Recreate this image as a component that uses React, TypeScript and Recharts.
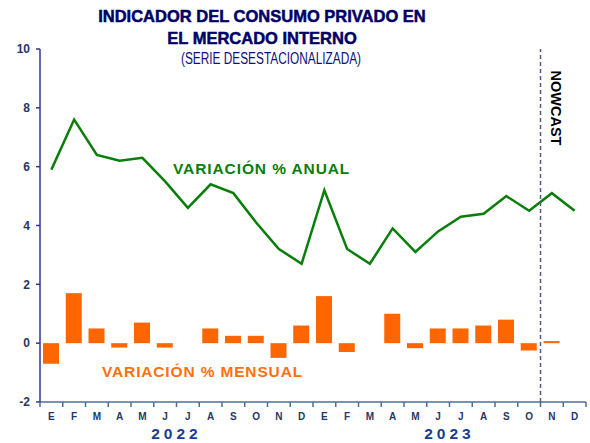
import { ComposedChart, Bar, Line, XAxis, YAxis, ReferenceLine } from 'recharts';

const categories = [
  'E-2022', 'F-2022', 'M-2022', 'A-2022', 'M2-2022', 'J-2022', 'J2-2022', 'A2-2022', 'S-2022', 'O-2022', 'N-2022', 'D-2022',
  'E-2023', 'F-2023', 'M-2023', 'A-2023', 'M2-2023', 'J-2023', 'J2-2023', 'A2-2023', 'S-2023', 'O-2023', 'N-2023', 'D-2023',
];
const monthLabels = ['E', 'F', 'M', 'A', 'M', 'J', 'J', 'A', 'S', 'O', 'N', 'D'];
const years = ['2022', '2023'];

// variación % anual (line)
const anual = [5.9, 7.6, 6.4, 6.2, 6.3, 5.5, 4.6, 5.4, 5.1, 4.1, 3.2, 2.7, 5.2, 3.2, 2.7, 3.9, 3.1, 3.8, 4.3, 4.4, 5.0, 4.5, 5.1, 4.5];
// variación % mensual (bars)
const mensual = [-0.7, 1.7, 0.5, -0.15, 0.7, -0.15, 0, 0.5, 0.25, 0.25, -0.5, 0.6, 1.6, -0.3, 0, 1.0, -0.17, 0.5, 0.5, 0.6, 0.8, -0.25, 0.07, 0];

const yTicks = [-2, 0, 2, 4, 6, 8, 10];

const data = categories.map((c, i) => ({ cat: c, anual: anual[i], mensual: mensual[i] }));

const NAVY = '#000066';
const AXIS_X = '#4f6d94';
const LABEL = '#1f3864';

const MonthTick = (props: any) => {
  const { x, y, payload, index } = props;
  const off = payload?.offset ?? 11.375;
  return (
    <g>
      <line x1={x - off} x2={x - off} y1={y} y2={y + 5} stroke={AXIS_X} strokeWidth={1.5} />
      {index === 23 && <line x1={x + off} x2={x + off} y1={y} y2={y + 5} stroke={AXIS_X} strokeWidth={1.5} />}
      <text x={x} y={y + 18} textAnchor="middle" fontSize={10} fontWeight="bold" fill={LABEL} fontFamily="Liberation Sans, Arial, sans-serif">
        {monthLabels[index % 12]}
      </text>
      {index % 12 === 6 && (
        <text x={x - off} y={y + 37} textAnchor="middle" fontSize={15.5} fontWeight="bold" fill="#183c94" letterSpacing={4} fontFamily="Liberation Sans, Arial, sans-serif">
          {years[Math.floor(index / 12)]}
        </text>
      )}
    </g>
  );
};

export default function App() {
  return (
    <div style={{ position: 'absolute', top: 0, left: 0, width: 590, height: 443, background: '#fff', fontFamily: 'Liberation Sans, Arial, sans-serif' }}>
      <div style={{ position: 'absolute', top: 5, left: 0, width: 524, textAlign: 'center', color: NAVY, fontWeight: 'bold', fontSize: 16.5, lineHeight: '22px', WebkitTextStroke: '0.5px #000066' }}>
        INDICADOR DEL CONSUMO PRIVADO EN<br />EL MERCADO INTERNO
      </div>
      <div style={{ position: 'absolute', top: 50, left: 141, width: 260, textAlign: 'center', color: '#10107a', fontSize: 16, whiteSpace: 'nowrap', transform: 'scaleX(0.74)' }}>
        (SERIE DESESTACIONALIZADA)
      </div>
      <ComposedChart width={590} height={443} data={data} margin={{ top: 49, right: 4, left: 0, bottom: 0 }}>
        <XAxis
          dataKey="cat"
          height={41}
          interval={0}
          tickLine={false}
          tickSize={0}
          tickMargin={0}
          axisLine={{ stroke: AXIS_X, strokeWidth: 1.5 }}
          tick={<MonthTick />}
        />
        <YAxis
          width={40}
          domain={[-2, 10]}
          ticks={yTicks}
          interval={0}
          tickSize={4}
          tickMargin={6}
          axisLine={{ stroke: '#333399', strokeWidth: 1.5 }}
          tickLine={{ stroke: '#333399', strokeWidth: 1.5 }}
          tick={{ fontSize: 12, fontWeight: 'bold', fill: LABEL, fontFamily: 'Liberation Sans, Arial, sans-serif' }}
        />
        <Bar dataKey="mensual" fill="#ff6600" barSize={16} isAnimationActive={false} />
        <Line dataKey="anual" stroke="#0a7d0a" strokeWidth={2.5} dot={false} isAnimationActive={false} />
        <ReferenceLine x="O-2023" position="end" stroke="#55558f" strokeWidth={1.5} strokeDasharray="4 3" />
      </ComposedChart>
      <div style={{ position: 'absolute', top: 160, left: 173, color: '#0a7d0a', fontWeight: 'bold', fontSize: 15.5, letterSpacing: 0.9, whiteSpace: 'nowrap' }}>
        VARIACIÓN % ANUAL
      </div>
      <div style={{ position: 'absolute', top: 363, left: 102, color: '#ff6f10', fontWeight: 'bold', fontSize: 15.5, letterSpacing: 0.85, whiteSpace: 'nowrap' }}>
        VARIACIÓN % MENSUAL
      </div>
      <div style={{ position: 'absolute', top: 100, left: 516, width: 80, textAlign: 'center', transform: 'rotate(90deg)', color: '#000', fontWeight: 'bold', fontSize: 14.5, whiteSpace: 'nowrap' }}>
        NOWCAST
      </div>
    </div>
  );
}
